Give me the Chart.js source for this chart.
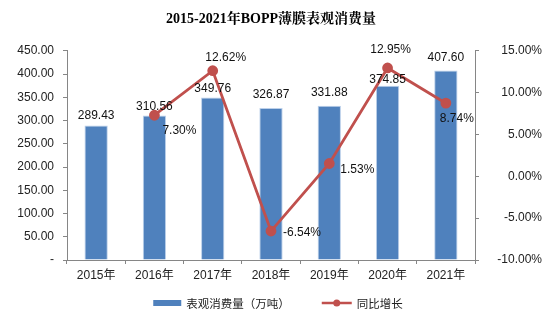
<!DOCTYPE html>
<html><head><meta charset="utf-8">
<script src="https://cdn.jsdelivr.net/npm/chart.js@4/dist/chart.umd.min.js"></script>
<style>html,body{margin:0;padding:0;background:#fff}#wrap{width:542px;height:315px;position:relative}</style>
</head><body><div id="wrap"><canvas id="c"></canvas></div>
<script>
const titleText = '2015-2021年BOPP薄膜表观消费量';
const categories = ['2015年','2016年','2017年','2018年','2019年','2020年','2021年'];
const consumption = [289.43, 310.56, 349.76, 326.87, 331.88, 374.85, 407.60];
const growth = [null, 7.30, 12.62, -6.54, 1.53, 12.95, 8.74];
const seriesNames = ['表观消费量（万吨）', '同比增长'];
const leftAxis = {min: 0, max: 450, step: 50};
const rightAxis = {min: -10, max: 15, step: 5};

// label placement (style only)
const barLabelDy = [-10, -9, -9, -13, -13, -6, -13];
const lineLabelOffsets = [[0,0],[25,15],[13,-13],[31,2],[28,6],[3,-18],[11,16]];

const BLUE = '#4F81BD', RED = '#C0504D', AXIS = '#868686';
const FONT = '"Liberation Sans", Arial, "Noto Sans CJK SC", sans-serif';

const valueLabels = {
  id: 'valueLabels',
  afterDatasetsDraw(chart) {
    const ctx = chart.ctx;
    ctx.save();
    ctx.font = '12px ' + FONT;
    ctx.fillStyle = '#111';
    ctx.textAlign = 'center';
    ctx.textBaseline = 'middle';
    chart.getDatasetMeta(0).data.forEach((el, i) => {
      ctx.fillText(consumption[i].toFixed(2), el.x, el.y + barLabelDy[i]);
    });
    chart.getDatasetMeta(1).data.forEach((el, i) => {
      const v = growth[i];
      if (v === null || v === undefined) return;
      const o = lineLabelOffsets[i];
      ctx.fillText(v.toFixed(2) + '%', el.x + o[0], el.y + o[1]);
    });
    ctx.restore();
  }
};

const customLegend = {
  id: 'customLegend',
  afterDraw(chart) {
    const ctx = chart.ctx;
    ctx.save();
    ctx.font = '11.5px "Noto Sans CJK SC", ' + FONT;
    const w1 = ctx.measureText(seriesNames[0]).width;
    const w2 = ctx.measureText(seriesNames[1]).width;
    const total = 28 + 5 + w1 + 32 + 30 + 5 + w2;
    const ca = chart.chartArea;
    let x = (ca.left + ca.right) / 2 + 7 - total / 2;
    const y = 303;
    ctx.fillStyle = BLUE;
    ctx.fillRect(x, y - 3, 28, 6);
    x += 33;
    ctx.fillStyle = '#222';
    ctx.textBaseline = 'middle';
    ctx.textAlign = 'left';
    ctx.fillText(seriesNames[0], x, y + 0.5);
    x += w1 + 32;
    ctx.strokeStyle = RED;
    ctx.lineWidth = 2.5;
    ctx.beginPath(); ctx.moveTo(x, y); ctx.lineTo(x + 30, y); ctx.stroke();
    ctx.fillStyle = RED;
    ctx.beginPath(); ctx.arc(x + 15, y, 3.5, 0, Math.PI * 2); ctx.fill();
    x += 35;
    ctx.fillStyle = '#222';
    ctx.fillText(seriesNames[1], x, y + 0.5);
    ctx.restore();
  }
};

new Chart(document.getElementById('c'), {
  type: 'bar',
  data: {
    labels: categories,
    datasets: [
      {
        type: 'bar', label: seriesNames[0], data: consumption, yAxisID: 'y',
        backgroundColor: BLUE, borderColor: '#BCD0EA', borderWidth: 1,
        barPercentage: 0.4, categoryPercentage: 1, order: 2
      },
      {
        type: 'line', label: seriesNames[1], data: growth, yAxisID: 'y1',
        borderColor: RED, backgroundColor: RED, borderWidth: 2.8,
        pointRadius: 4, pointBackgroundColor: RED, pointBorderColor: RED,
        tension: 0, order: 1, spanGaps: false
      }
    ]
  },
  options: {
    responsive: true, maintainAspectRatio: false, animation: false,
    devicePixelRatio: 1,
    layout: {padding: {left: 0, right: 0, top: 0, bottom: 25}},
    plugins: {
      legend: {display: false},
      tooltip: {enabled: false},
      title: {
        display: true, text: titleText, color: '#000',
        font: {family: '"Liberation Serif", "Noto Serif CJK SC", "Noto Sans CJK SC", serif', size: 14, weight: 'bold'},
        padding: {top: 11, bottom: 23}
      }
    },
    scales: {
      x: {
        offset: true,
        grid: {display: true, drawOnChartArea: false, drawTicks: true, tickLength: 4, color: AXIS, offset: true},
        border: {display: true, color: AXIS, width: 1},
        ticks: {color: '#222', font: {family: FONT, size: 12}, padding: 4},
        afterFit(s) { s.height = 30; }
      },
      y: {
        position: 'left', min: leftAxis.min, max: leftAxis.max,
        grid: {display: true, drawOnChartArea: false, drawTicks: true, tickLength: 4, color: AXIS},
        border: {display: true, color: AXIS, width: 1},
        ticks: {
          stepSize: leftAxis.step, color: '#222', font: {family: FONT, size: 12}, padding: 9,
          callback: v => v === 0 ? '-' : Number(v).toFixed(2)
        },
        afterFit(s) { s.width = 67; }
      },
      y1: {
        position: 'right', min: rightAxis.min, max: rightAxis.max,
        grid: {display: true, drawOnChartArea: false, drawTicks: true, tickLength: 4, color: AXIS},
        border: {display: true, color: AXIS, width: 1},
        ticks: {
          stepSize: rightAxis.step, color: '#222', font: {family: FONT, size: 12}, padding: 19,
          crossAlign: 'far',
          callback: v => Number(v).toFixed(2) + '%'
        },
        afterFit(s) { s.width = 67; }
      }
    }
  },
  plugins: [valueLabels, customLegend]
});
</script>
</body></html>
